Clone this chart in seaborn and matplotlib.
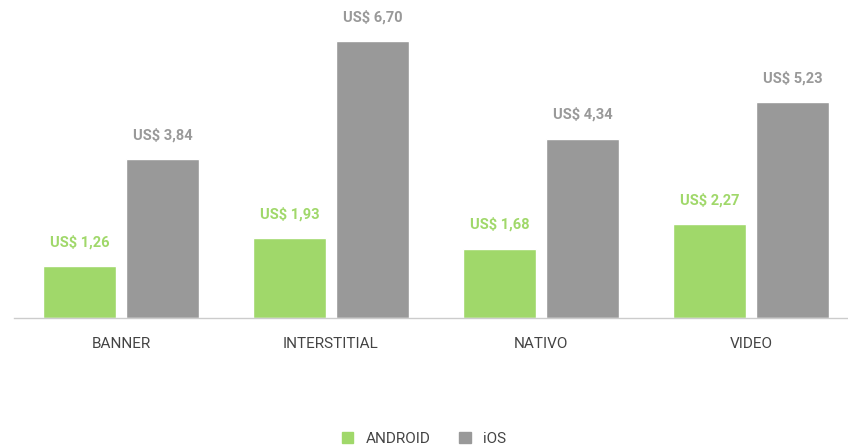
import pandas as pd
import matplotlib.pyplot as plt
import seaborn as sns

# data
categories = ["BANNER", "INTERSTITIAL", "NATIVO", "VIDEO"]
android = [1.26, 1.93, 1.68, 2.27]
ios = [3.84, 6.70, 4.34, 5.23]
series = ["ANDROID", "iOS"]
colors = {"ANDROID": "#a0d86a", "iOS": "#999999"}
label_colors = {"ANDROID": "#a0d86a", "iOS": "#999999"}

df = pd.DataFrame({
    "tipo": categories * 2,
    "os": ["ANDROID"] * len(categories) + ["iOS"] * len(categories),
    "valor": android + ios,
})

sns.set_style("white")
plt.rcParams["font.family"] = ["Roboto", "DejaVu Sans"]

fig = plt.figure(figsize=(8.48, 4.46), dpi=100)
ax = fig.add_axes([14 / 848, 128 / 446, 834 / 848, 318 / 446])

sns.barplot(data=df, x="tipo", y="valor", hue="os", order=categories,
            hue_order=series, palette=colors, width=0.79, gap=0.12,
            saturation=1, ax=ax, legend=False)

# value labels above each bar
for cont, name in zip(ax.containers, series):
    for bar in cont:
        h = bar.get_height()
        txt = "US$ " + f"{h:.2f}".replace(".", ",")
        ax.annotate(txt, (bar.get_x() + bar.get_width() / 2, h),
                    xytext=(0, 12), textcoords="offset points",
                    ha="center", va="bottom", fontsize=10.5,
                    fontweight="bold", color=label_colors[name])

ax.set_xlim((14 - 121) / 210, (848 - 121) / 210)
ax.set_ylim(0, 318 / 41.34)
ax.set_xlabel("")
ax.set_ylabel("")
ax.set_yticks([])
ax.tick_params(axis="x", length=0, pad=14, labelsize=11, labelcolor="#444444")
for side in ["top", "right", "left"]:
    ax.spines[side].set_visible(False)
ax.spines["bottom"].set_color("#cccccc")
ax.spines["bottom"].set_linewidth(1.0)

# legend at bottom
handles = [plt.Rectangle((0, 0), 1, 1, color=colors[s]) for s in series]
fig.legend(handles, series, loc="center", bbox_to_anchor=(0.5, 7 / 446),
           ncol=2, frameon=False, fontsize=11, handlelength=0.75,
           handleheight=0.75, columnspacing=1.9, handletextpad=0.8,
           labelcolor="#444444")

fig.savefig("out.png", dpi=100)
